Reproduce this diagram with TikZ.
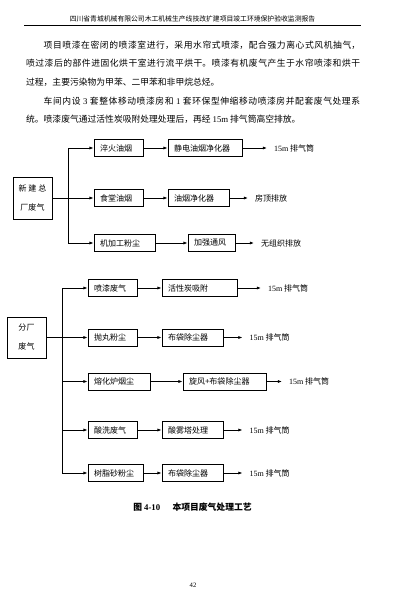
\documentclass[tikz,border=0pt]{standalone}
\usepackage{fontspec}
\setmainfont{Noto Sans CJK SC}
\newfontfamily\tnrfont{Liberation Serif}
\newcommand{\tnr}[1]{{\tnrfont #1}}
\XeTeXlinebreaklocale "zh"
\XeTeXlinebreakskip=0pt plus 1.5pt
\usetikzlibrary{arrows.meta, positioning}
\tikzset{
    procbox/.style={rectangle, draw=black, line width=1.1pt, minimum height=0.85cm, inner xsep=0.3cm, inner ysep=0pt, align=left, font=\fontsize{11.4}{13}\selectfont},
    sourcebox/.style={rectangle, draw=black, line width=1.1pt, minimum width=1.95cm, align=center, font=\fontsize{11.4}{27}\selectfont},
    outlet/.style={anchor=west, inner xsep=0.35cm, inner ysep=0pt, font=\fontsize{11.4}{13}\selectfont},
    arrow/.style={-{Latex[length=6pt, width=4.5pt]}, line width=1.1pt},
    trunk/.style={line width=1.1pt}
}

\begin{document}
\begin{tikzpicture}[x=0.05cm, y=-0.05cm,
                    para/.style={anchor=north west, text width=16.7cm, inner sep=0pt, align=justify, font=\fontsize{12.5}{26.6}\selectfont},
                    header/.style={font=\fontsize{9.7}{11}\selectfont, inner sep=0pt}
                ]

                % Page
                \fill[white] (0,0) rectangle (401,600);
                \useasboundingbox (0,0) rectangle (401,600);

                % Header and text
                \node (head_title) [header] at (192.5, 19) {四川省青城机械有限公司木工机械生产线技改扩建项目竣工环境保护验收监测报告};
                \draw[line width=1.4pt] (24, 25) -- (361, 25);
                \node (body_text) [para] at (26, 40.5) {\tolerance=10000\noindent\hspace*{2em}项目喷漆在密闭的喷漆室进行，采用水帘式喷漆，配合强力离心式风机抽气，\linebreak
                    喷过漆后的部件进固化烘干室进行流平烘干。喷漆有机废气产生于水帘喷漆和烘干\linebreak
                    过程，主要污染物为甲苯、二甲苯和非甲烷总烃。\par
                    \noindent\hspace*{2em}车间内设 \tnr{3} 套整体移动喷漆房和 \tnr{1} 套环保型伸缩移动喷漆房并配套废气处理系\linebreak
                    统。喷漆废气通过活性炭吸附处理处理后，再经 \tnr{15m} 排气筒高空排放。};

                % Total plant waste gas
                \node (zong_box) [sourcebox, minimum height=2.1cm] at (32.5, 198) {新 建 总\\厂废气};
                \coordinate (fork_a) at (68, 198);

                \node (cuihuo) [procbox, text width=1.85cm] at (118.5, 148) {淬火油烟};
                \node (jingdian) [procbox, text width=3.1cm] at (205, 148) {静电油烟净化器};
                \node (out_a1) [outlet] at (267, 148) {\tnr{15m} 排气筒};

                \node (shitang) [procbox, text width=1.85cm] at (118.5, 198) {食堂油烟};
                \node (youyan) [procbox, text width=2.45cm] at (198.5, 198) {油烟净化器};
                \node (out_a2) [outlet] at (248, 198) {房顶排放};

                \node (jiagong) [procbox, text width=2.45cm] at (124.5, 243) {机加工粉尘};
                \node (jiaqiang) [procbox, text width=1.75cm] at (211.5, 243) {加强通风};
                \node (out_a3) [outlet] at (254, 243) {无组织排放};

                \draw [arrow] (zong_box.east) -- (shitang);
                \draw [arrow] (fork_a) |- (cuihuo);
                \draw [arrow] (fork_a) |- (jiagong);
                \draw [arrow] (cuihuo) -- (jingdian);
                \draw [arrow] (jingdian) -- (out_a1);
                \draw [arrow] (shitang) -- (youyan);
                \draw [arrow] (youyan) -- (out_a2);
                \draw [arrow] (jiagong) -- (jiaqiang);
                \draw [arrow] (jiaqiang) -- (out_a3);

                % Branch plant waste gas
                \node (fen_box) [sourcebox, minimum height=2.05cm] at (26.5, 337.5) {分厂\\废气};
                \coordinate (fork_b) at (62, 337.5);

                \node (penqi) [procbox, text width=1.85cm] at (112.5, 288) {喷漆废气};
                \node (huoxing) [procbox, text width=3.15cm] at (199.5, 288) {活性炭吸附};
                \node (out_b1) [outlet] at (261, 288) {\tnr{15m} 排气筒};

                \node (paowan) [procbox, text width=1.85cm] at (112.5, 337.5) {抛丸粉尘};
                \node (budai_a) [procbox, text width=2.45cm] at (192.5, 337.5) {布袋除尘器};
                \node (out_b2) [outlet] at (242.5, 337.5) {\tnr{15m} 排气筒};

                \node (ronghua) [procbox, text width=2.5cm] at (119, 381.5) {熔化炉烟尘};
                \node (xuanfeng) [procbox, text width=3.55cm] at (224.5, 381.5) {旋风+布袋除尘器};
                \node (out_b3) [outlet] at (282, 381.5) {\tnr{15m} 排气筒};

                \node (suanxi) [procbox, text width=1.85cm] at (112.5, 430) {酸洗废气};
                \node (suanwu) [procbox, text width=2.45cm] at (192.5, 430) {酸雾塔处理};
                \node (out_b4) [outlet] at (242.5, 430) {\tnr{15m} 排气筒};

                \node (shuzhi) [procbox, text width=2.15cm] at (115.5, 473) {树脂砂粉尘};
                \node (budai_b) [procbox, text width=2.45cm] at (192.5, 473) {布袋除尘器};
                \node (out_b5) [outlet] at (242.5, 473) {\tnr{15m} 排气筒};

                \draw [arrow] (fen_box.east) -- (paowan);
                \draw [arrow] (fork_b) |- (penqi);
                \draw [arrow] (fork_b) |- (ronghua);
                \draw [arrow] (fork_b) |- (suanxi);
                \draw [arrow] (fork_b) |- (shuzhi);
                \draw [arrow] (penqi) -- (huoxing);
                \draw [arrow] (huoxing) -- (out_b1);
                \draw [arrow] (paowan) -- (budai_a);
                \draw [arrow] (budai_a) -- (out_b2);
                \draw [arrow] (ronghua) -- (xuanfeng);
                \draw [arrow] (xuanfeng) -- (out_b3);
                \draw [arrow] (suanxi) -- (suanwu);
                \draw [arrow] (suanwu) -- (out_b4);
                \draw [arrow] (shuzhi) -- (budai_b);
                \draw [arrow] (budai_b) -- (out_b5);

                % Caption and page number
                \node (fig_caption) [font=\fontsize{12.5}{14}\selectfont\bfseries] at (192.5, 507) {图 \tnr{4-10}\hspace{1.4em}本项目废气处理工艺};
                \node (page_no) [font=\fontsize{9.5}{11}\selectfont] at (193, 585) {\tnr{42}};

            \end{tikzpicture}
\end{document}
